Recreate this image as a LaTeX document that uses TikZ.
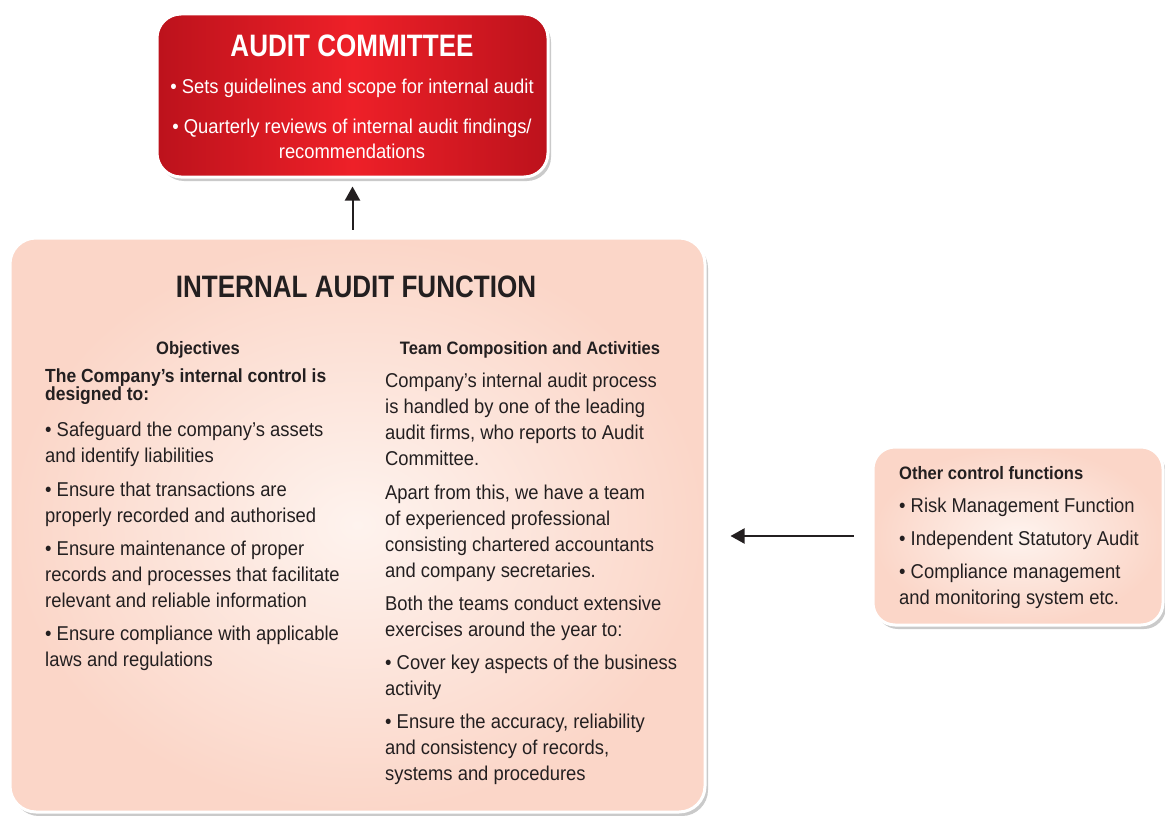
\documentclass[tikz,border=0pt]{standalone}
\usepackage{fontspec}
\setmainfont{Liberation Sans}[FakeStretch=0.92,BoldFeatures={FakeStretch=0.92}]
\newfontfamily\titlefont{Liberation Sans}[FakeStretch=0.84]
\usetikzlibrary{shadows,arrows.meta}
\definecolor{ink}{HTML}{231F20}
\definecolor{acdark}{RGB}{188,18,28}
\definecolor{acbright}{RGB}{238,32,40}
\definecolor{peach}{RGB}{251,214,200}
\definecolor{peachin}{RGB}{254,243,238}
\tikzset{
  boxshadow/.style={drop shadow={shadow xshift=3pt,shadow yshift=-4pt,opacity=0.35,fill=black!60}},
  redbox/.style={rectangle,rounded corners=24pt,draw=white,line width=3pt,
    left color=acdark,right color=acdark,middle color=acbright,boxshadow,inner sep=0pt},
  peachbox/.style={rectangle,rounded corners=26pt,draw=white,line width=3pt,
    inner color=peachin,outer color=peach,boxshadow,inner sep=0pt},
  body/.style={anchor=base west,inner sep=0pt,text=ink,font=\fontsize{20}{24}\selectfont},
  subhead/.style={anchor=base,inner sep=0pt,text=ink,font=\bfseries\fontsize{18}{22}\selectfont},
  boldbody/.style={anchor=base west,inner sep=0pt,text=ink,font=\bfseries\fontsize{19}{22}\selectfont},
  actext/.style={anchor=base,inner sep=0pt,text=white,font=\fontsize{20}{24}\selectfont},
  arr/.style={draw=ink,line width=2pt,-{Triangle[length=14pt,width=15pt]}},
}
\begin{document}
\begin{tikzpicture}[x=1pt,y=-1pt]
\useasboundingbox (0,0) rectangle (1165,816);
\clip (0,0) rectangle (1165,816);
% boxes
\node[redbox,minimum width=391pt,minimum height=163pt] (ac) at (352.5,95.5) {};
\node[peachbox,minimum width=695pt,minimum height=574pt] (iaf) at (357.5,525) {};
\node[peachbox,rounded corners=22pt,minimum width=290pt,minimum height=178pt] (oth) at (1018,536) {};
% audit committee text
\node[anchor=base,inner sep=0pt,text=white,font=\titlefont\bfseries\fontsize{31}{34}\selectfont] (actitle) at (352,57) {AUDIT COMMITTEE};
\node[actext] (ac1) at (352,93) {• Sets guidelines and scope for internal audit};
\node[actext] (ac2) at (352,133) {• Quarterly reviews of internal audit findings/};
\node[actext] (ac3) at (352,158) {recommendations};
% internal audit function
\node[anchor=base,inner sep=0pt,text=ink,font=\titlefont\bfseries\fontsize{31}{34}\selectfont] (iaftitle) at (356,297) {INTERNAL AUDIT FUNCTION};
\node[subhead] (objh) at (198,354) {Objectives};
\node[subhead] (teamh) at (530,354) {Team Composition and Activities};
\node[boldbody] (b1) at (45,382) {The Company’s internal control is};
\node[boldbody] (b2) at (45,400) {designed to:};
\foreach \yy/\tx [count=\i] in {
  436/{• Safeguard the company’s assets},
  462/{and identify liabilities},
  496/{• Ensure that transactions are},
  522/{properly recorded and authorised},
  555/{• Ensure maintenance of proper},
  581/{records and processes that facilitate},
  607/{relevant and reliable information},
  640/{• Ensure compliance with applicable},
  666/{laws and regulations}}
  \node[body] (l\i) at (45,\yy) {\tx};
\foreach \yy/\tx [count=\i] in {
  387/{Company’s internal audit process},
  413/{is handled by one of the leading},
  439/{audit firms, who reports to Audit},
  465/{Committee.},
  499/{Apart from this, we have a team},
  525/{of experienced professional},
  551/{consisting chartered accountants},
  577/{and company secretaries.},
  610/{Both the teams conduct extensive},
  636/{exercises around the year to:},
  669/{• Cover key aspects of the business},
  695/{activity},
  728/{• Ensure the accuracy, reliability},
  754/{and consistency of records,},
  780/{systems and procedures}}
  \node[body] (r\i) at (385,\yy) {\tx};
% other control functions
\node[boldbody,font=\bfseries\fontsize{18}{22}\selectfont] (othh) at (899,479) {Other control functions};
\node[body] (o1) at (899,512) {• Risk Management Function};
\node[body] (o2) at (899,545) {• Independent Statutory Audit};
\node[body] (o3) at (899,578) {• Compliance management};
\node[body] (o4) at (899,604) {and monitoring system etc.};
% arrows
\draw[arr,shorten <=7pt,shorten >=8pt] (ac.south |- iaf.north) -- (ac.south);
\draw[arr,shorten <=18pt,shorten >=24pt] (oth.west) -- (oth.west -| iaf.east);
\end{tikzpicture}
\end{document}
